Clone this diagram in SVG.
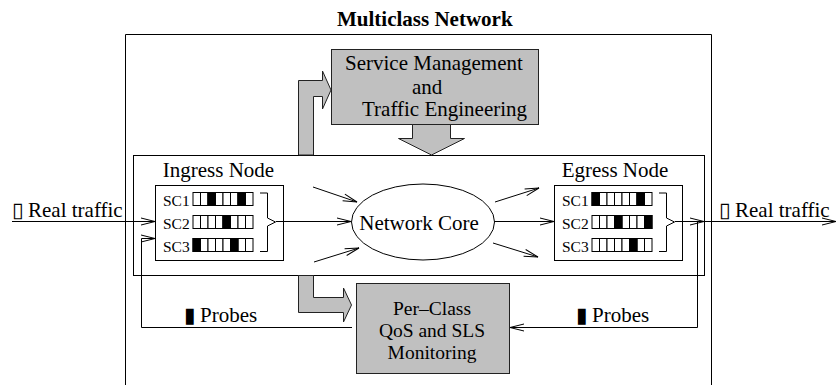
<svg xmlns="http://www.w3.org/2000/svg" xmlns:xlink="http://www.w3.org/1999/xlink" width="838" height="385" viewBox="0 0 838 385">
<style>
text{font-family:"Liberation Serif","Times New Roman",serif;font-size:21px;fill:#000}
.sc{font-size:15.5px}
.mon{font-size:19.5px}
.title{font-weight:bold}
.sym{font-family:"DejaVu Sans",sans-serif}
.box{fill:none;stroke:#000;stroke-width:1}
.gbox{fill:#c0c0c0;stroke:#222;stroke-width:1}
.cell{fill:#fff;stroke:#000;stroke-width:1}
.blk{fill:#000;stroke:#000;stroke-width:1}
.ln{fill:none;stroke:#000;stroke-width:1}
.arr{fill:none;stroke:#000;stroke-width:1;marker-end:url(#ah)}
</style>
<defs>
<marker id="ah" markerUnits="userSpaceOnUse" markerWidth="16" markerHeight="9" refX="14" refY="4" orient="auto" overflow="visible">
<path d="M0,0.5 L14,4 L0,7.5" fill="none" stroke="#000" stroke-width="1"/>
</marker>
<g id="qrow">
<rect class="cell" x="0" y="0" width="7.5" height="13"/>
<rect class="cell" x="7.5" y="0" width="7.5" height="13"/>
<rect class="cell" x="15" y="0" width="7.5" height="13"/>
<rect class="cell" x="22.5" y="0" width="7.5" height="13"/>
<rect class="cell" x="30" y="0" width="7.5" height="13"/>
<rect class="cell" x="37.5" y="0" width="7.5" height="13"/>
<rect class="cell" x="45" y="0" width="7.5" height="13"/>
<rect class="cell" x="52.5" y="0" width="7.5" height="13"/>
</g>
</defs>
<rect width="838" height="385" fill="#fff"/>

<g id="multiclass-network">
<path class="ln" d="M125.5,390 V34.5 H711.5 V390"/>
<text class="title" x="337" y="26">Multiclass Network</text>
</g>

<g id="domain">
<rect class="box" x="133.5" y="155.5" width="571" height="120" stroke="#333"/>
</g>

<g id="service-management">
<rect class="gbox" x="331.5" y="49.5" width="207" height="75"/>
<text x="345" y="70">Service Management</text>
<text x="412" y="94">and</text>
<text x="362" y="116">Traffic Engineering</text>
</g>

<g id="monitoring">
<rect class="gbox" x="356.5" y="283.5" width="153" height="90"/>
<text class="mon" x="432" y="314.5" text-anchor="middle">Per–Class</text>
<text class="mon" x="432" y="336.5" text-anchor="middle">QoS and SLS</text>
<text class="mon" x="432" y="358.5" text-anchor="middle">Monitoring</text>
</g>

<g id="ingress-node">
<text x="218.5" y="177" text-anchor="middle">Ingress Node</text>
<rect class="box" x="155.5" y="185.5" width="128" height="75"/>
<text class="sc" x="163" y="205.5">SC1</text>
<text class="sc" x="163" y="228.5">SC2</text>
<text class="sc" x="163" y="251.5">SC3</text>
<use xlink:href="#qrow" x="193" y="192.5"/>
<use xlink:href="#qrow" x="193" y="215.5"/>
<use xlink:href="#qrow" x="193" y="238.5"/>
<rect class="blk" x="208" y="192.5" width="7.5" height="13"/>
<rect class="blk" x="238" y="192.5" width="7.5" height="13"/>
<rect class="blk" x="223" y="215.5" width="7.5" height="13"/>
<rect class="blk" x="193" y="238.5" width="7.5" height="13"/>
<rect class="blk" x="230.5" y="238.5" width="7.5" height="13"/>
<path class="ln" d="M260,193 H267.5 V218 L275.5,222 L267.5,226 V251.5 H260"/>
</g>

<g id="egress-node">
<text x="615" y="177" text-anchor="middle">Egress Node</text>
<rect class="box" x="554.5" y="185.5" width="128" height="75"/>
<text class="sc" x="562" y="205.5">SC1</text>
<text class="sc" x="562" y="228.5">SC2</text>
<text class="sc" x="562" y="251.5">SC3</text>
<use xlink:href="#qrow" x="592" y="192.5"/>
<use xlink:href="#qrow" x="592" y="215.5"/>
<use xlink:href="#qrow" x="592" y="238.5"/>
<rect class="blk" x="592" y="192.5" width="7.5" height="13"/>
<rect class="blk" x="637" y="192.5" width="7.5" height="13"/>
<rect class="blk" x="614.5" y="215.5" width="7.5" height="13"/>
<rect class="blk" x="644.5" y="215.5" width="7.5" height="13"/>
<rect class="blk" x="629.5" y="238.5" width="7.5" height="13"/>
<path class="ln" d="M659,193 H666.5 V218 L674.5,222 L666.5,226 V251.5 H659"/>
</g>

<g id="network-core">
<ellipse class="box" cx="423" cy="222" rx="71.5" ry="38"/>
<text x="419" y="230" text-anchor="middle">Network Core</text>
</g>

<g id="labels">
<text x="12" y="216.5"><tspan class="sym">▯</tspan><tspan x="28">Real traffic</tspan></text>
<text x="719" y="216.5"><tspan class="sym">▯</tspan><tspan x="735">Real traffic</tspan></text>
<text x="184" y="321.5"><tspan class="sym">▮</tspan><tspan x="200">Probes</tspan></text>
<text x="576" y="321.5"><tspan class="sym">▮</tspan><tspan x="592">Probes</tspan></text>
</g>

<g id="connectors">
<polygon class="gbox" points="298.5,155 298.5,80.5 322.5,80.5 322.5,71 331,90 322.5,109 322.5,96.5 313.5,96.5 313.5,155"/>
<polygon class="gbox" points="412.5,124.5 412.5,138.5 398.5,138.5 431.5,155 464.5,138.5 450.5,138.5 450.5,124.5"/>
<polygon class="gbox" points="298.5,275.5 298.5,312.5 343.5,312.5 343.5,322 351.5,305 343.5,288 343.5,297.5 313.5,297.5 313.5,275.5"/>
<line class="arr" x1="12" y1="221.5" x2="155" y2="221.5"/>
<polyline class="arr" points="352,327.5 141.5,327.5 141.5,238.5 155,238.5"/>
<line class="arr" x1="276" y1="221.5" x2="351" y2="221.5"/>
<line class="arr" x1="313" y1="187" x2="357" y2="202"/>
<line class="arr" x1="314" y1="262" x2="359" y2="248"/>
<line class="arr" x1="495" y1="202" x2="539" y2="188"/>
<line class="arr" x1="494.5" y1="221.5" x2="554" y2="221.5"/>
<line class="arr" x1="493" y1="243" x2="538" y2="257"/>
<line class="arr" x1="675" y1="221.5" x2="704" y2="221.5"/>
<line class="arr" x1="704" y1="221.5" x2="836" y2="221.5"/>
<polyline class="arr" points="697.5,221.5 697.5,327.5 510,327.5"/>
</g>
</svg>
